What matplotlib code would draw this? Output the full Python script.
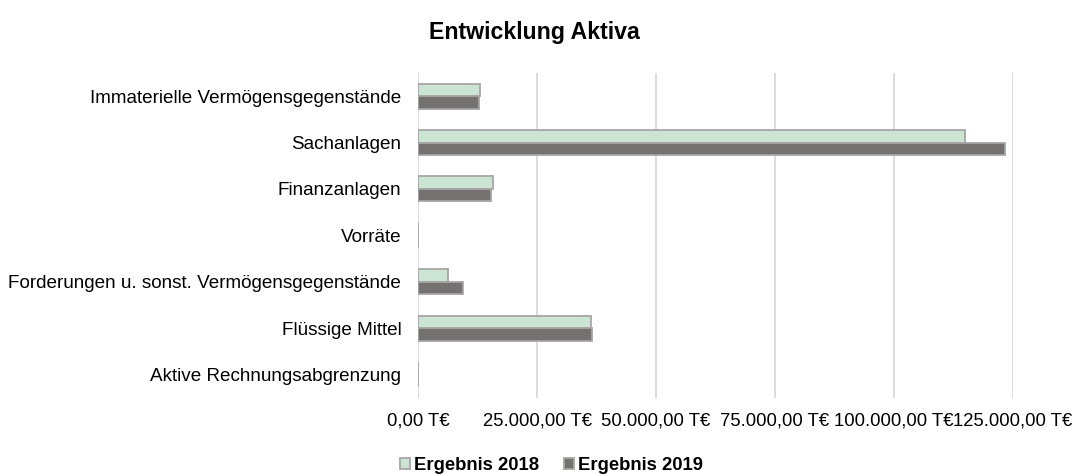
import numpy as np
import matplotlib.pyplot as plt
from matplotlib.ticker import FuncFormatter

plt.rcParams['font.family'] = ['Liberation Sans', 'DejaVu Sans']

categories = ["Immaterielle Vermögensgegenstände", "Sachanlagen", "Finanzanlagen",
              "Vorräte", "Forderungen u. sonst. Vermögensgegenstände",
              "Flüssige Mittel", "Aktive Rechnungsabgrenzung"]
ergebnis_2018 = [13100, 114900, 15800, 0, 6200, 36300, 0]
ergebnis_2019 = [12800, 123300, 15400, 0, 9500, 36600, 0]
xticks = [0, 25000, 50000, 75000, 100000, 125000]


def teur(v, pos=None):
    s = f"{v:,.2f}".replace(",", "X").replace(".", ",").replace("X", ".")
    return s + " T€"


fig = plt.figure(figsize=(10.76, 4.74), dpi=100)
ax = fig.add_axes([0.3885, 0.161, 0.553, 0.685])

y = np.arange(len(categories))
h = 0.27
ax.barh(y - h / 2, ergebnis_2018, height=h, color='#cce4d3', edgecolor='#a6a6a6',
        linewidth=1.3, label="Ergebnis 2018", zorder=3)
ax.barh(y + h / 2, ergebnis_2019, height=h, color='#767171', edgecolor='#a6a6a6',
        linewidth=1.3, label="Ergebnis 2019", zorder=3)

ax.set_yticks(y)
ax.set_yticklabels(categories, fontsize=13.6)
ax.set_ylim(len(categories) - 0.5, -0.5)
ax.set_xlim(0, 125000)
ax.set_xticks(xticks)
ax.xaxis.set_major_formatter(FuncFormatter(teur))
ax.tick_params(axis='x', labelsize=13.3, length=0, pad=11)
ax.tick_params(axis='y', length=0, pad=12)
ax.grid(axis='x', color='#d9d9d9', linewidth=1.3, zorder=0)
for s in ax.spines.values():
    s.set_visible(False)

fig.suptitle("Entwicklung Aktiva", x=0.497, y=0.955, fontsize=16.7, fontweight='bold')
fig.legend(loc='center', bbox_to_anchor=(0.5126, 0.017), ncol=2, frameon=False,
           prop={'weight': 'bold', 'size': 13.3}, handlelength=0.55, handleheight=0.55,
           handletextpad=0.2, columnspacing=1.35)

fig.savefig("out.png", dpi=100)
